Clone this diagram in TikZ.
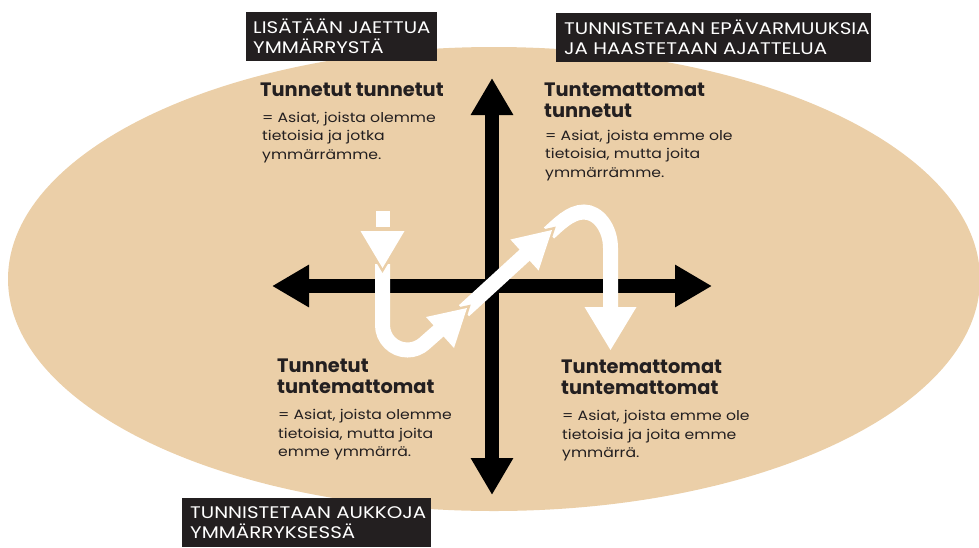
\documentclass[tikz,border=0pt]{standalone}
\usepackage{fontspec}
\setmainfont{Poppins}
\newfontfamily\bodyfont[FakeStretch=1.16]{Poppins}
\newfontfamily\boxfont[FakeStretch=1.18]{Poppins}
\usetikzlibrary{arrows.meta}
\definecolor{beige}{HTML}{EBCFA8}
\definecolor{ink}{HTML}{231F20}
\begin{document}
\begin{tikzpicture}[x=1pt,y=-1pt,
  axis/.style={line width=14pt, draw=black, {Triangle[length=37pt,width=40pt]}-{Triangle[length=37pt,width=40pt]}},
  flow/.style={line width=15pt, draw=white},
  gapline/.style={draw=beige, line width=5pt, line join=miter},
  headfill/.style={fill=white},
  boxfill/.style={fill=ink, inner sep=0pt, anchor=north west},
  boxtext/.style={text=white, font=\boxfont\fontsize{16.8}{20}\selectfont, align=left, inner sep=0pt, anchor=west},
  title/.style={font=\fontsize{19.4}{21}\selectfont\bfseries, text=ink, align=left, anchor=north west, inner sep=0pt},
  body/.style={font=\bodyfont\fontsize{13.5}{18.3}\selectfont, text=ink, align=left, anchor=north west, inner sep=0pt}]

\useasboundingbox (0,0) rectangle (979,547);
\fill[beige] (494,279) ellipse [x radius=486, y radius=232];

% axes
\coordinate (L) at (272,286);
\coordinate (R) at (712,286);
\coordinate (T) at (492,78);
\coordinate (B) at (492,495);
\draw[axis] (L) -- (R);
\draw[axis] (T) -- (B);

% white flow
\coordinate (sq1) at (375.5,211);
\coordinate (sq2) at (389.5,227);
\fill[white] (sq1) rectangle (sq2);

\coordinate (s1) at (382.5,264);
\coordinate (u1) at (382.5,325);
\coordinate (e1) at (443,327);
\draw[flow] (s1) -- (u1) arc[start angle=180, end angle=48, radius=25] -- (e1);

\coordinate (s2) at (464,310.7);
\coordinate (e2) at (527,253);
\draw[flow] (s2) -- (e2);

\coordinate (s3) at (549,233);
\coordinate (top3) at (584,212);
\coordinate (r3) at (610.5,248);
\coordinate (e3) at (610.5,310);
\draw[flow] (s3) .. controls (558,225) and (570,212) .. (top3)
  .. controls (598,212) and (610.5,228) .. (r3) -- (e3);

% arrowheads
\coordinate (a1) at (360.5,231);
\coordinate (b1) at (404.5,231);
\coordinate (t1) at (382.5,268);
\draw[gapline] (a1) -- (t1) -- (b1);
\fill[headfill] (a1) -- (t1) -- (b1) -- cycle;

\coordinate (a2) at (426,317);
\coordinate (b2) at (454,348);
\coordinate (t2) at (467,308);
\draw[gapline] (a2) -- (t2) -- (b2);
\fill[headfill] (a2) -- (t2) -- (b2) -- cycle;

\coordinate (a3) at (510.4,239.5);
\coordinate (b3) at (538.6,270.5);
\coordinate (t3) at (552,230);
\draw[gapline] (a3) -- (t3) -- (b3);
\fill[headfill] (a3) -- (t3) -- (b3) -- cycle;

\coordinate (a4) at (584.5,307);
\coordinate (b4) at (636.5,307);
\coordinate (t4) at (610.5,350);
\fill[headfill] (a4) -- (t4) -- (b4) -- cycle;

% label boxes
\node[boxfill, minimum width=191pt, minimum height=49pt] (box1) at (246,12) {};
\node[boxtext] (txt1) at ([xshift=7pt]box1.west) {LISÄTÄÄN JAETTUA\\YMMÄRRYSTÄ};
\node[boxfill, minimum width=315pt, minimum height=49pt] (box2) at (556,13) {};
\node[boxtext] (txt2) at ([xshift=8pt]box2.west) {TUNNISTETAAN EPÄVARMUUKSIA\\JA HAASTETAAN AJATTELUA};
\node[boxfill, minimum width=249pt, minimum height=49pt] (box3) at (182,498) {};
\node[boxtext] (txt3) at ([xshift=8pt]box3.west) {TUNNISTETAAN AUKKOJA\\YMMÄRRYKSESSÄ};

% quadrant texts
\node[title] (q1t) at (260,82.5) {Tunnetut tunnetut};
\node[body] (q1b) at (262,112) {= Asiat, joista olemme\\tietoisia ja jotka\\ymmärrämme.};
\node[title] (q2t) at (544,82.5) {Tuntemattomat\\tunnetut};
\node[body] (q2b) at (545,130) {= Asiat, joista emme ole\\tietoisia, mutta joita\\ymmärrämme.};
\node[title] (q3t) at (277,358.5) {Tunnetut\\tuntemattomat};
\node[body] (q3b) at (278,409.5) {= Asiat, joista olemme\\tietoisia, mutta joita\\emme ymmärrä.};
\node[title] (q4t) at (561,359.5) {Tuntemattomat\\tuntemattomat};
\node[body] (q4b) at (562,410.5) {= Asiat, joista emme ole\\tietoisia ja joita emme\\ymmärrä.};
\end{tikzpicture}
\end{document}
